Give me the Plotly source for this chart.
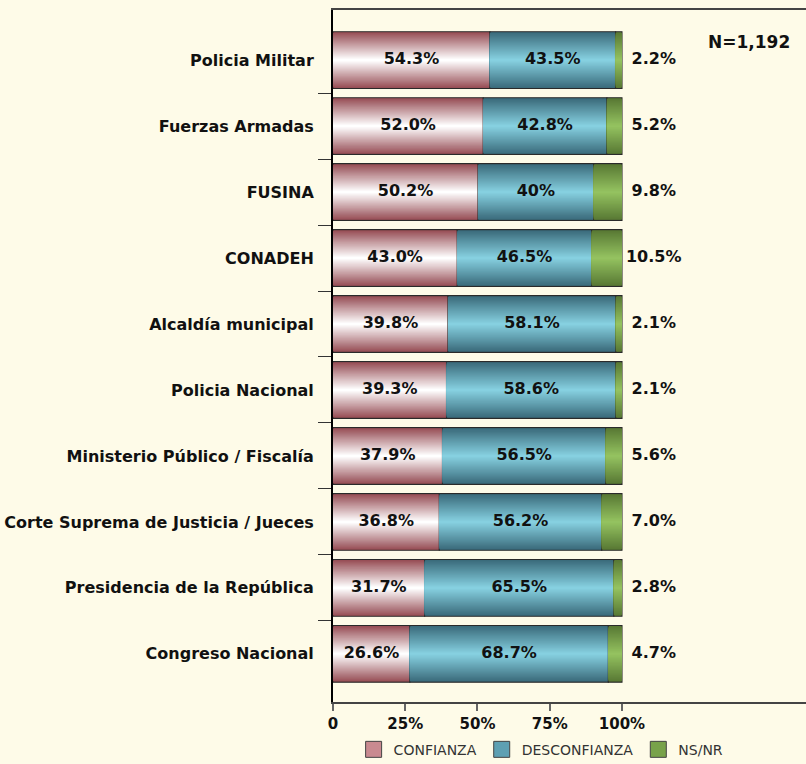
import plotly.graph_objects as go

categories = [
    "Policia Militar",
    "Fuerzas Armadas",
    "FUSINA",
    "CONADEH",
    "Alcaldía municipal",
    "Policia Nacional",
    "Ministerio Público / Fiscalía",
    "Corte Suprema de Justicia / Jueces",
    "Presidencia de la República",
    "Congreso Nacional",
]
confianza = [54.3, 52.0, 50.2, 43.0, 39.8, 39.3, 37.9, 36.8, 31.7, 26.6]
desconfianza = [43.5, 42.8, 40, 46.5, 58.1, 58.6, 56.5, 56.2, 65.5, 68.7]
nsnr = [2.2, 5.2, 9.8, 10.5, 2.1, 2.1, 5.6, 7.0, 2.8, 4.7]
series_names = ["CONFIANZA", "DESCONFIANZA", "NS/NR"]
x_ticks = [0, 25, 50, 75, 100]
x_tick_labels = ["0", "25%", "50%", "75%", "100%"]
sample_note = "N=1,192"

FONT = "DejaVu Sans"
BG = "#FEFBE8"
edge_colors = [(150, 76, 84), (58, 106, 122), (88, 120, 52)]
center_colors = [(255, 255, 255), (134, 208, 224), (148, 194, 96)]
legend_colors = ["#c98a90", "#5ea0b3", "#78a24a"]


def fmt(v):
    return f"{v}%" if isinstance(v, int) else f"{v:.1f}%"


def mix(a, b, t):
    return "rgb(%d,%d,%d)" % tuple(round(a[i] + (b[i] - a[i]) * t) for i in range(3))


n = len(categories)
ypos = [n - 1 - i for i in range(n)]  # first category on top

series = [confianza, desconfianza, nsnr]
bases = []
run = [0.0] * n
for vals in series:
    bases.append(list(run))
    run = [r + v for r, v in zip(run, vals)]

fig = go.Figure()
BAR_W = 0.86
N_LAYERS = 28
for si, vals in enumerate(series):
    for k in range(N_LAYERS):
        frac = 1 - k / N_LAYERS
        t = k / (N_LAYERS - 1)
        fig.add_trace(go.Bar(
            orientation="h",
            y=ypos,
            x=vals,
            base=bases[si],
            width=BAR_W * frac,
            marker=dict(
                color=mix(edge_colors[si], center_colors[si], t),
                line=dict(color="#2a2a2a", width=1.2) if k == 0 else dict(width=0),
            ),
            showlegend=False,
            hoverinfo="skip",
        ))

# legend entries
for si, name in enumerate(series_names):
    fig.add_trace(go.Scatter(
        x=[None], y=[None], mode="markers", name=name,
        marker=dict(symbol="square", size=16, color=legend_colors[si],
                    line=dict(color="#444444", width=1)),
        hoverinfo="skip",
    ))

# inside labels
for si in range(2):
    fig.add_trace(go.Scatter(
        x=[b + v / 2 for b, v in zip(bases[si], series[si])],
        y=ypos,
        mode="text",
        text=[fmt(v) for v in series[si]],
        textfont=dict(family=FONT, size=16, color="#111111", weight="bold"),
        showlegend=False,
        hoverinfo="skip",
    ))

# NS/NR labels outside
fig.add_trace(go.Scatter(
    x=[111.0] * n,
    y=ypos,
    mode="text",
    text=[fmt(v) for v in nsnr],
    textfont=dict(family=FONT, size=16, color="#111111", weight="bold"),
    showlegend=False,
    hoverinfo="skip",
))

fig.add_annotation(
    x=1, y=1, xref="paper", yref="paper", xanchor="right", yanchor="top",
    xshift=-14, yshift=-20,
    text=sample_note, showarrow=False,
    font=dict(family=FONT, size=17, color="#111111", weight="bold"),
)

fig.update_layout(
    width=806, height=764,
    barmode="overlay",
    paper_bgcolor=BG,
    plot_bgcolor=BG,
    margin=dict(l=333, r=0, t=10, b=62, autoexpand=False),
    font=dict(family=FONT, color="#111111"),
    legend=dict(
        orientation="h", x=0.44, xanchor="center", y=-0.069, yanchor="middle",
        font=dict(family=FONT, size=14, color="#333333"),
        bgcolor="rgba(0,0,0,0)", traceorder="normal",
    ),
    xaxis=dict(
        range=[0, 163.7],
        tickvals=x_ticks, ticktext=x_tick_labels,
        showgrid=False, zeroline=False, automargin=False,
        showline=True, linecolor="#444444", linewidth=2, mirror=True,
        ticks="outside", ticklen=7, tickcolor="#666666", tickwidth=2,
        ticklabelstandoff=0,
        tickfont=dict(family=FONT, size=15, color="#111111", weight="bold"),
    ),
    yaxis=dict(
        range=[-0.73, 9.76],
        tickvals=ypos, ticktext=categories,
        showgrid=False, zeroline=False, automargin=False,
        showline=True, linecolor="#000000", linewidth=2,
        ticks="",
        minor=dict(tickvals=[i + 0.5 for i in range(n - 1)], ticks="outside",
                   ticklen=13, tickcolor="#333333", tickwidth=1, showgrid=False),
        ticklabelstandoff=14,
        tickfont=dict(family=FONT, size=16, color="#111111", weight="bold"),
    ),
)

fig.write_html("out.html", config={"displayModeBar": False},
               post_script="document.body.style.margin='0px';")
